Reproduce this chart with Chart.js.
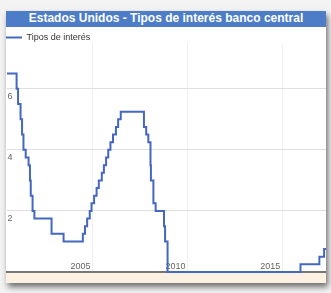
<!DOCTYPE html>
<html>
<head>
<meta charset="utf-8">
<script src="https://cdn.jsdelivr.net/npm/chart.js@4"></script>
<style>
  html, body { margin: 0; padding: 0; }
  body { width: 331px; height: 293px; background: #f3f3f3; position: relative; overflow: hidden; }
  #card {
    position: absolute; left: 6px; top: 11px; width: 320px; height: 272px;
    background: #fff; box-shadow: 2px 4px 6px rgba(0, 0, 0, 0.55);
  }
  #title {
    height: 16px; line-height: 16px; background: #4d7dc6; color: #fff;
    font: bold 12px "Liberation Sans", Arial, sans-serif; text-align: center;
  }
  canvas { display: block; }
</style>
</head>
<body>
<div id="card">
  <div id="title">Estados Unidos - Tipos de interés banco central</div>
  <canvas id="chart" width="320" height="256"></canvas>
</div>
<script>
// fechas de cambio del tipo objetivo y valor desde esa fecha
const rateDates = [
  "2000-05-16", "2001-01-03", "2001-01-31", "2001-03-20", "2001-04-18", "2001-05-15",
  "2001-06-27", "2001-08-21", "2001-09-17", "2001-10-02", "2001-11-06", "2001-12-11",
  "2002-11-06", "2003-06-25", "2004-06-30", "2004-08-10", "2004-09-21", "2004-11-10",
  "2004-12-14", "2005-02-02", "2005-03-22", "2005-05-03", "2005-06-30", "2005-08-09",
  "2005-09-20", "2005-11-01", "2005-12-13", "2006-01-31", "2006-03-28", "2006-05-10",
  "2006-06-29", "2007-09-18", "2007-10-31", "2007-12-11", "2008-01-22", "2008-01-30",
  "2008-03-18", "2008-04-30", "2008-10-08", "2008-10-29", "2008-12-16", "2015-12-16",
  "2016-12-14", "2017-03-15", "2017-06-01"
];
const rateValues = [
  6.5, 6.0, 5.5, 5.0, 4.5, 4.0,
  3.75, 3.5, 3.0, 2.5, 2.0, 1.75,
  1.25, 1.0, 1.25, 1.5, 1.75, 2.0,
  2.25, 2.5, 2.75, 3.0, 3.25, 3.5,
  3.75, 4.0, 4.25, 4.5, 4.75, 5.0,
  5.25, 4.75, 4.5, 4.25, 3.5, 3.0,
  2.25, 2.0, 1.5, 1.0, 0, 0.25,
  0.5, 0.75, 0.75
];
const xTicks = [2005, 2010, 2015];
const yTicks = [2, 4, 6];
const seriesLabel = "Tipos de interés";

function toYear(s) {
  const [y, m, d] = s.split("-").map(Number);
  const start = Date.UTC(y, 0, 1);
  const end = Date.UTC(y + 1, 0, 1);
  return y + (Date.UTC(y, m - 1, d) - start) / (end - start);
}

const points = rateDates.map((d, i) => ({ x: toYear(d), y: rateValues[i] }));

const bottomStrip = {
  id: "bottomStrip",
  beforeDraw(chart) {
    const { ctx, chartArea, width, height } = chart;
    ctx.save();
    ctx.fillStyle = "#fdf1e4";
    ctx.fillRect(0, chartArea.bottom, width, height - chartArea.bottom);
    ctx.restore();
  }
};

new Chart(document.getElementById("chart"), {
  type: "line",
  data: {
    datasets: [{
      label: seriesLabel,
      data: points,
      borderColor: "#4468c0",
      backgroundColor: "#4468c0",
      borderWidth: 2,
      pointRadius: 0,
      stepped: true,
      fill: false,
      clip: { left: 0, top: 0, right: 0, bottom: 3 }
    }]
  },
  options: {
    responsive: false,
    animation: false,
    devicePixelRatio: 1,
    layout: { padding: { top: 6, bottom: 11, left: 0, right: 0 } },
    plugins: {
      legend: {
        align: "start",
        maxHeight: 10,
        labels: {
          usePointStyle: true,
          pointStyle: "line",
          pointStyleWidth: 16,
          boxHeight: 9,
          padding: 0,
          color: "#333",
          font: { size: 9, family: "'Liberation Sans', Arial, sans-serif" }
        }
      },
      tooltip: { enabled: false }
    },
    scales: {
      x: {
        type: "linear",
        min: 2000.5,
        max: 2017.3,
        afterBuildTicks: s => { s.ticks = xTicks.map(v => ({ value: v })); },
        grid: { color: "#f1f1f1", drawTicks: false },
        border: { color: "#777", width: 2 },
        ticks: {
          mirror: true,
          padding: 0,
          labelOffset: -12,
          maxRotation: 0,
          color: "#666",
          font: { size: 9, family: "'Liberation Sans', Arial, sans-serif" },
          callback: v => String(v)
        }
      },
      y: {
        min: 0,
        max: 7.5,
        afterBuildTicks: s => { s.ticks = yTicks.map(v => ({ value: v })); },
        grid: { color: "#dedede", drawTicks: false },
        border: { display: false },
        ticks: {
          mirror: true,
          padding: 0.5,
          labelOffset: 8,
          color: "#666",
          font: { size: 9, family: "'Liberation Sans', Arial, sans-serif" },
          callback: v => String(v)
        }
      }
    }
  },
  plugins: [bottomStrip]
});
</script>
</body>
</html>
